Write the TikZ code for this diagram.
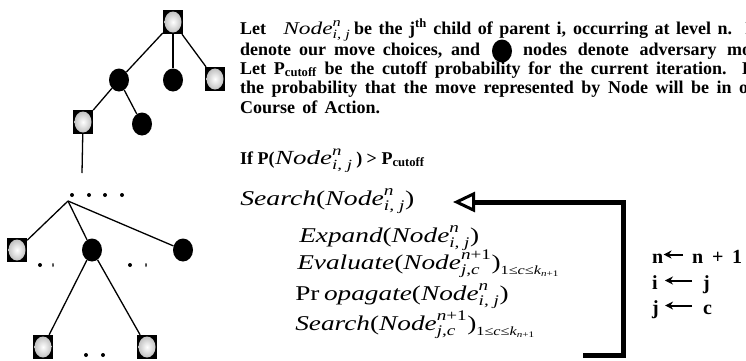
\documentclass[tikz,border=0pt]{standalone}
\usepackage{amsmath}
\usepackage{fontspec}
\setmainfont{Liberation Serif}
\usetikzlibrary{positioning, shapes.geometric, arrows.meta}

\newcommand{\eqi}[1]{\text{\mdseries\itshape #1}}
\newcommand{\equ}[1]{\text{\mdseries\upshape #1}}
\newcommand{\Nd}[2]{\eqi{Node}^{\eqi{#1}}_{\eqi{#2}}}
\newcommand{\Rng}{_{\text{\mdseries\fontsize{12.5}{12.5}\selectfont 1≤\itshape c\upshape ≤\itshape k}_{\text{\mdseries\fontsize{8.5}{8.5}\selectfont\itshape n\upshape +1}}}}

\tikzset{
  ourmove/.style={rectangle, fill=black, minimum width=20pt, minimum height=24pt, inner sep=0pt,
    path picture={\shade[inner color=white, outer color=gray!55]
      (path picture bounding box.center) ellipse (8.5pt and 10.5pt);}},
  advmove/.style={ellipse, fill=black, minimum width=20pt, minimum height=23pt, inner sep=0pt},
  dotmark/.style={circle, fill=black, minimum size=4pt, inner sep=0pt},
  tinymark/.style={ellipse, fill=black, minimum width=1.5pt, minimum height=4pt, inner sep=0pt},
  branch/.style={line width=1.3pt},
  txt/.style={anchor=base west, inner sep=0pt, font=\fontsize{18}{18}\selectfont\bfseries},
  condtxt/.style={txt, font=\fontsize{18}{18}\selectfont\bfseries},
  eqline/.style={anchor=base west, inner sep=0pt, font=\fontsize{21}{21}\selectfont, transform shape},
  varname/.style={anchor=base west, inner sep=0pt, font=\fontsize{20}{20}\selectfont\bfseries,
    text height=17pt, text depth=0pt},
  backarrow/.style={line width=5pt, -{Triangle[open, length=22pt, width=20pt, line width=3pt]}},
  assign/.style={line width=2pt, -{Stealth[length=8pt, width=8pt]}}
}

\begin{document}
\begin{tikzpicture}[x=1pt, y=-1pt]
\useasboundingbox (0,0) rectangle (746,360);
\clip (0,0) rectangle (746,360);

% search tree
\node[ourmove] (root) at (173,22) {};
\node[advmove] (a1) at (119,80) {};
\node[advmove] (a2) at (173,80) {};
\node[ourmove] (a3) at (215,79) {};
\node[ourmove] (b1) at (83,122) {};
\node[advmove] (b2) at (142,124) {};
\coordinate (b1end) at (82,173);
\foreach \x [count=\k] in {72,89,105,122}
  \node[dotmark] (dot\k) at (\x,195) {};
\coordinate (hub) at (68,201);
\node[ourmove] (c1) at (17,250) {};
\node[advmove] (c2) at (92,250) {};
\node[advmove] (c3) at (183,250) {};
\node[dotmark] (gap1) at (40,265) {};
\node[tinymark] (gap2) at (53,265) {};
\node[dotmark] (gap3) at (130,265) {};
\node[tinymark] (gap4) at (146,265) {};
\node[ourmove] (d1) at (43,347) {};
\node[ourmove] (d2) at (147,347) {};
\node[dotmark] (gap5) at (86,355) {};
\node[dotmark] (gap6) at (103,355) {};

\draw[branch] (root) -- (a1);
\draw[branch] (root) -- (a2);
\draw[branch] (root) -- (a3);
\draw[branch] (a1) -- (b1);
\draw[branch] (a1) -- (b2);
\draw[branch] (b1) -- (b1end);
\draw[branch] (hub) -- (c1);
\draw[branch] (hub) -- (c2);
\draw[branch] (hub) -- (c3);
\draw[branch] (c2) -- (d1);
\draw[branch] (c2) -- (d2);

% definitions (justified lines, cut at the right edge)
\node[txt] (line1) at (240,34) {Let};
\begin{scope}[shift={(283,34)}, xscale=1.3]
  \node[eqline, font=\fontsize{18}{18}\selectfont] (line1node) at (0,0) {$\Nd{n}{i, j}$};
\end{scope}
\node[txt] (line1rest) at (354,34) {\makebox[398pt][s]{be the j\textsuperscript{th} child of parent i, occurring at level n.~~I}};
\node[txt] (line2a) at (240,55) {\makebox[240pt][s]{denote our move choices, and}};
\node[advmove] (advkey) at (502,51) {};
\node[txt] (line2b) at (523,55) {\makebox[228pt][s]{nodes denote adversary mo}};
\node[txt] (line3) at (240,74) {\makebox[514pt][s]{Let P\textsubscript{cutoff} be the cutoff probability for the current iteration.~~L}};
\node[txt] (line4) at (240,93) {\makebox[508pt][s]{the probability that the move represented by Node will be in o}};
\node[txt] (line5) at (240,113) {\makebox[140pt][s]{Course of Action.}};

% algorithm
\node[condtxt] (condif) at (240,164) {If P(};
\begin{scope}[shift={(condif.base east)}, xscale=1.35]
  \node[eqline, font=\fontsize{20}{20}\selectfont] (condnode) at (0,0) {$\Nd{n}{i, j}$};
\end{scope}
\node[condtxt] (condrest) at (condnode.base east) {\,) > P\textsubscript{cutoff}};
\begin{scope}[shift={(240,205)}, xscale=1.32]
  \node[eqline] (search) at (0,0) {$\eqi{Search}\equ{(}\Nd{n}{i, j}\equ{)}$};
\end{scope}
\begin{scope}[shift={(299,242)}, xscale=1.3]
  \node[eqline] (expand) at (0,0) {$\eqi{Expand}\equ{(}\Nd{n}{i, j}\equ{)}$};
\end{scope}
\begin{scope}[shift={(297,269)}, xscale=1.3]
  \node[eqline] (evaluate) at (0,0) {$\eqi{Evaluate}\equ{(}\Nd{n\upshape+1}{j,c}\equ{)}\Rng$};
\end{scope}
\begin{scope}[shift={(295,300)}, xscale=1.3]
  \node[eqline] (propagate) at (0,0) {$\equ{Pr}\,\eqi{opagate}\equ{(}\Nd{n}{i, j}\equ{)}$};
\end{scope}
\begin{scope}[shift={(295,330)}, xscale=1.3]
  \node[eqline] (search2) at (0,0) {$\eqi{Search}\equ{(}\Nd{n\upshape+1}{j,c}\equ{)}\Rng$};
\end{scope}

% loop back
\coordinate (loopfoot) at (583,355);
\coordinate (loopcorner) at (623,202);
\coordinate (looptip) at (453,202);
\draw[backarrow] (loopfoot) -| (loopcorner) -- (looptip);

% index update
\node[varname] (nold) at (652,263) {n};
\node[varname] (nnew) at (692,263) {\makebox[50pt][s]{n + 1}};
\node[varname] (iold) at (652,289) {i};
\node[varname] (inew) at (703,289) {j};
\node[varname] (jold) at (652,314) {j};
\node[varname] (jnew) at (703,314) {c};
\draw[assign, shorten <=9pt] (nnew.west) -- (nnew.west -| nold.east);
\draw[assign, shorten <=11pt, shorten >=7pt] (inew.west) -- (inew.west -| iold.east);
\draw[assign, shorten <=11pt, shorten >=6pt] (jnew.west) -- (jnew.west -| jold.east);
\end{tikzpicture}
\end{document}
